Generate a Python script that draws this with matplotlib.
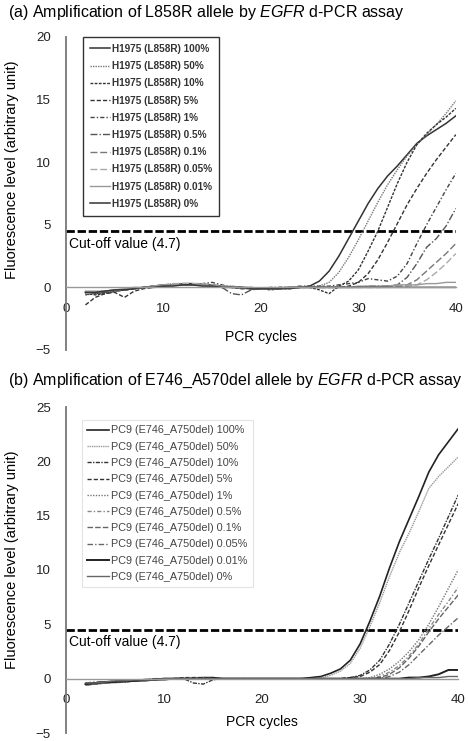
#!/usr/bin/env python3
"""Amplification curves of the EGFR d-PCR assay (L858R and E746_A750del)."""

import matplotlib

matplotlib.use("Agg")
import matplotlib.pyplot as plt

plt.rcParams["font.family"] = ["Liberation Sans", "DejaVu Sans"]
plt.rcParams["mathtext.fontset"] = "custom"
plt.rcParams["mathtext.rm"] = "Liberation Sans"
plt.rcParams["mathtext.it"] = "Liberation Sans:italic"

CYCLES = list(range(2, 41))
CUTOFF = 4.5
CUTOFF_LABEL = "Cut-off value (4.7)"

# panel (a): H1975 (L858R) dilution series
A_LABELS = [
    "H1975 (L858R) 100%",
    "H1975 (L858R) 50%",
    "H1975 (L858R) 10%",
    "H1975 (L858R) 5%",
    "H1975 (L858R) 1%",
    "H1975 (L858R) 0.5%",
    "H1975 (L858R) 0.1%",
    "H1975 (L858R) 0.05%",
    "H1975 (L858R) 0.01%",
    "H1975 (L858R) 0%",
]
A_100 = [-0.4, -0.5, -0.4, -0.3, -0.2, -0.1, 0.0, 0.1, 0.2, 0.2,
         0.3, 0.3, 0.2, 0.2, 0.1, 0.0, 0.0, -0.1, -0.1, -0.1,
         -0.1, 0.0, 0.0, 0.1, 0.5, 1.3, 2.5, 3.9, 5.3, 6.7,
         7.9, 8.9, 9.7, 10.6, 11.5, 12.1, 12.6, 13.1, 13.7]
A_50 = [-0.6, -0.5, -0.4, -0.3, -0.2, -0.1, 0.0, 0.1, 0.2, 0.3,
        0.3, 0.3, 0.3, 0.2, 0.1, 0.1, 0.0, 0.0, -0.1, -0.1,
        -0.1, 0.0, 0.0, 0.0, 0.1, 0.4, 1.2, 2.4, 3.8, 5.3,
        6.8, 8.2, 9.4, 10.5, 11.4, 12.2, 13.0, 13.9, 14.9]
A_10 = [-0.5, -0.6, -0.5, -0.3, -0.2, -0.1, 0.0, 0.1, 0.1, 0.2,
        0.2, 0.3, 0.2, 0.1, 0.1, 0.0, 0.0, -0.1, -0.1, -0.2,
        -0.1, -0.1, 0.0, 0.0, -0.2, -0.5, 0.1, 0.5, 1.4, 2.9,
        4.5, 6.4, 8.3, 10.0, 11.4, 12.3, 13.0, 13.6, 14.3]
A_5 = [-1.4, -0.8, -0.5, -0.4, -0.8, -0.3, -0.1, 0.0, 0.1, 0.2,
       0.2, 0.2, 0.2, 0.1, 0.0, 0.0, -0.1, -0.1, -0.1, -0.1,
       0.0, 0.0, 0.0, 0.0, 0.0, 0.0, 0.0, 0.1, 0.4, 1.1,
       2.2, 3.6, 5.1, 6.6, 7.9, 9.1, 10.2, 11.2, 12.2]
A_1 = [-0.6, -0.4, -0.3, -0.3, -0.2, -0.1, 0.0, 0.0, 0.1, 0.2,
       0.2, 0.2, 0.3, 0.4, 0.2, 0.0, -0.1, -0.1, -0.1, 0.0,
       0.0, 0.0, 0.1, 0.1, 0.1, 0.1, 0.2, 0.3, 0.4, 0.7,
       0.6, 0.5, 0.9, 1.9, 3.5, 5.0, 6.4, 7.8, 9.1]
A_05 = [-0.5, -0.4, -0.4, -0.3, -0.2, -0.1, 0.0, 0.1, 0.1, 0.2,
        0.2, 0.2, 0.2, 0.1, 0.0, -0.5, -0.6, -0.2, -0.1, -0.1,
        -0.1, 0.0, 0.0, 0.0, 0.0, 0.0, 0.0, 0.0, 0.0, 0.1,
        0.1, 0.1, 0.2, 0.8, 1.9, 3.2, 3.9, 4.9, 6.3]
A_01 = [-0.4, -0.4, -0.3, -0.3, -0.2, -0.1, 0.0, 0.1, 0.2, 0.2,
        0.3, 0.3, 0.2, 0.1, 0.1, 0.0, 0.0, -0.1, -0.1, -0.1,
        -0.1, 0.0, 0.0, 0.0, 0.0, 0.0, 0.0, 0.0, 0.0, 0.0,
        0.0, 0.1, 0.1, 0.2, 0.6, 1.3, 2.0, 2.7, 3.5]
A_005 = [-0.5, -0.4, -0.3, -0.2, -0.2, -0.1, 0.0, 0.1, 0.2, 0.3,
         0.3, 0.3, 0.3, 0.2, 0.1, 0.1, 0.0, 0.0, -0.1, -0.1,
         0.0, 0.0, 0.0, 0.0, 0.0, 0.0, 0.0, 0.0, 0.0, 0.0,
         0.0, 0.0, 0.1, 0.1, 0.2, 0.6, 1.2, 1.9, 2.7]
A_001 = [-0.3, -0.3, -0.3, -0.2, -0.1, 0.0, 0.0, 0.1, 0.2, 0.2,
         0.2, 0.2, 0.2, 0.1, 0.1, 0.0, 0.0, 0.0, -0.1, -0.1,
         -0.1, 0.0, 0.0, 0.0, 0.0, 0.0, 0.0, 0.0, 0.1, 0.1,
         0.1, 0.1, 0.2, 0.2, 0.2, 0.3, 0.3, 0.4, 0.4]
A_0 = [-0.4, -0.4, -0.3, -0.2, -0.2, -0.1, 0.0, 0.0, 0.1, 0.1,
       0.2, 0.2, 0.1, 0.1, 0.0, 0.0, 0.0, -0.1, -0.1, -0.1,
       -0.1, -0.1, 0.0, 0.0, 0.0, 0.0, 0.0, 0.0, 0.0, 0.0,
       0.0, 0.0, 0.0, 0.0, 0.0, 0.0, 0.0, 0.0, 0.0]

# panel (b): PC9 (E746_A750del) dilution series
B_LABELS = [
    "PC9 (E746_A750del) 100%",
    "PC9 (E746_A750del) 50%",
    "PC9 (E746_A750del) 10%",
    "PC9 (E746_A750del) 5%",
    "PC9 (E746_A750del) 1%",
    "PC9 (E746_A750del) 0.5%",
    "PC9 (E746_A750del) 0.1%",
    "PC9 (E746_A750del) 0.05%",
    "PC9 (E746_A750del) 0.01%",
    "PC9 (E746_A750del) 0%",
]
B_100 = [-0.5, -0.4, -0.4, -0.3, -0.3, -0.2, -0.2, -0.1, -0.1, 0.0,
         0.0, 0.0, 0.1, 0.1, 0.0, 0.0, 0.0, 0.0, 0.0, 0.0,
         0.0, 0.0, 0.0, 0.1, 0.2, 0.5, 0.9, 1.7, 3.2, 5.3,
         7.6, 10.2, 12.6, 14.7, 16.8, 19.0, 20.6, 21.8, 23.0]
B_50 = [-0.6, -0.5, -0.4, -0.4, -0.3, -0.2, -0.2, -0.1, -0.1, 0.0,
        0.0, 0.1, 0.1, 0.0, 0.0, 0.0, 0.0, 0.0, 0.0, 0.0,
        0.0, 0.0, 0.0, 0.0, 0.1, 0.3, 0.7, 1.4, 2.8, 4.8,
        7.0, 9.4, 11.6, 13.4, 15.4, 17.5, 18.6, 19.5, 20.4]
B_10 = [-0.5, -0.5, -0.4, -0.3, -0.3, -0.2, -0.1, -0.1, 0.0, 0.0,
        0.0, -0.4, -0.5, -0.1, 0.0, 0.0, 0.0, 0.0, 0.0, 0.0,
        0.0, 0.0, 0.0, 0.0, 0.0, 0.0, 0.0, 0.1, 0.3, 0.8,
        1.7, 3.2, 5.0, 7.0, 9.0, 11.0, 12.9, 14.9, 16.9]
B_5 = [-0.4, -0.4, -0.3, -0.3, -0.2, -0.2, -0.1, -0.1, 0.0, 0.0,
       0.1, 0.1, 0.1, 0.0, 0.0, 0.0, 0.0, 0.0, 0.0, 0.0,
       0.0, 0.0, 0.0, 0.0, 0.0, 0.0, 0.0, 0.1, 0.2, 0.6,
       1.3, 2.6, 4.3, 6.3, 8.4, 10.4, 12.3, 14.2, 16.1]
B_1 = [-0.5, -0.4, -0.3, -0.3, -0.2, -0.1, -0.1, 0.0, 0.0, 0.0,
       0.1, 0.0, 0.0, 0.0, 0.0, 0.0, 0.0, 0.0, 0.0, 0.0,
       0.0, 0.0, 0.0, 0.0, 0.0, 0.0, 0.0, 0.0, 0.0, 0.1,
       0.4, 0.9, 1.6, 2.5, 3.6, 5.0, 6.6, 8.3, 10.0]
B_05 = [-0.4, -0.4, -0.3, -0.2, -0.2, -0.1, -0.1, 0.0, 0.0, 0.0,
        0.0, 0.0, 0.0, 0.0, 0.0, 0.0, 0.0, 0.0, 0.0, 0.0,
        0.0, 0.0, 0.0, 0.0, 0.0, 0.0, 0.0, 0.0, 0.0, 0.0,
        0.2, 0.6, 1.2, 2.1, 3.2, 4.6, 5.9, 7.1, 8.4]
B_01 = [-0.6, -0.5, -0.4, -0.3, -0.2, -0.2, -0.1, -0.1, 0.0, 0.0,
        0.0, 0.0, 0.0, 0.0, 0.0, 0.0, 0.0, 0.0, 0.0, 0.0,
        0.0, 0.0, 0.0, 0.0, 0.0, 0.0, 0.0, 0.0, 0.0, 0.0,
        0.1, 0.4, 1.0, 1.9, 3.0, 4.3, 5.5, 6.6, 7.7]
B_005 = [-0.4, -0.3, -0.3, -0.2, -0.2, -0.1, -0.1, 0.0, 0.0, 0.0,
         0.0, 0.0, 0.0, 0.0, 0.0, 0.0, 0.0, 0.0, 0.0, 0.0,
         0.0, 0.0, 0.0, 0.0, 0.0, 0.0, 0.0, 0.0, 0.0, 0.0,
         0.0, 0.2, 0.6, 1.3, 2.2, 3.1, 4.0, 4.8, 5.6]
B_001 = [-0.5, -0.4, -0.3, -0.3, -0.2, -0.2, -0.1, -0.1, 0.0, 0.0,
         0.0, 0.0, 0.0, 0.0, 0.0, 0.0, 0.0, 0.0, 0.0, 0.0,
         0.0, 0.0, 0.0, 0.0, 0.0, 0.0, 0.0, 0.0, 0.0, 0.0,
         0.0, 0.0, 0.0, 0.1, 0.1, 0.2, 0.4, 0.8, 0.8]
B_0 = [-0.4, -0.4, -0.3, -0.2, -0.2, -0.1, -0.1, -0.1, 0.0, 0.0,
       0.0, 0.0, 0.0, 0.0, 0.0, 0.0, 0.0, 0.0, 0.0, 0.0,
       0.0, 0.0, 0.0, 0.0, 0.0, 0.0, 0.0, 0.0, 0.0, 0.0,
       0.0, 0.0, 0.0, 0.0, 0.1, 0.1, 0.1, 0.2, 0.2]

A_STYLES = [
    ("-", "#333333", 1.1),
    ((0, (1, 0.8)), "#777777", 1.0),
    ((0, (2, 1)), "#333333", 1.0),
    ((0, (3, 1.5)), "#333333", 1.0),
    ((0, (3, 1.5, 1, 1.5)), "#444444", 1.0),
    ((0, (5, 1.5, 1, 1.5)), "#555555", 1.0),
    ((0, (5, 2)), "#777777", 1.0),
    ((0, (5, 2)), "#aaaaaa", 1.0),
    ("-", "#999999", 1.0),
    ("-", "#333333", 1.1),
]
B_STYLES = [
    ("-", "#222222", 1.2),
    ((0, (1, 0.6)), "#999999", 1.0),
    ((0, (3, 1, 1, 1)), "#333333", 1.0),
    ((0, (3, 1.5)), "#333333", 1.0),
    ((0, (1, 1)), "#777777", 1.0),
    ((0, (3, 1.5, 1, 1.5)), "#888888", 1.0),
    ((0, (4, 1.5)), "#666666", 1.0),
    ((0, (4, 1.5, 1, 1.5)), "#666666", 1.0),
    ("-", "#222222", 1.4),
    ("-", "#666666", 1.0),
]


def _style_axis(axis, ymin, ymax):
    axis.set_xlim(0, 40)
    axis.set_ylim(ymin, ymax)
    axis.set_xticks([0, 10, 20, 30, 40])
    axis.set_yticks(range(ymin, ymax + 1, 5))
    axis.spines["top"].set_visible(False)
    axis.spines["right"].set_visible(False)
    axis.spines["left"].set_position(("data", 0))
    axis.spines["bottom"].set_position(("data", 0))
    axis.spines["left"].set_color("#777777")
    axis.spines["left"].set_linewidth(1.3)
    axis.spines["bottom"].set_color("#999999")
    axis.spines["bottom"].set_linewidth(1.0)
    axis.tick_params(axis="both", length=0, labelsize=9.5, colors="#222222")
    axis.tick_params(axis="y", pad=11)
    axis.tick_params(axis="x", pad=11)
    axis.patch.set_alpha(0)


def _panel(axis, series, labels, styles, ymin, ymax, legend_kw):
    _style_axis(axis, ymin, ymax)
    for values, label, (ls, color, lw) in zip(series, labels, styles):
        axis.plot(CYCLES, values, linestyle=ls, color=color, linewidth=lw, label=label)
    axis.axhline(CUTOFF, color="black", linewidth=2.0, linestyle=(0, (3, 1)), zorder=1)
    axis.text(0.3, CUTOFF - 0.45, CUTOFF_LABEL, fontsize=10, va="top", ha="left")
    axis.text(20, -4.0, "PCR cycles", fontsize=10, va="center", ha="center")
    legend = axis.legend(
        loc="upper left",
        borderaxespad=0,
        handlelength=2.0,
        handletextpad=0.2,
        fancybox=False,
        **legend_kw,
    )
    return legend


def main():
    fig = plt.figure(figsize=(4.68, 7.41), dpi=100)

    ax_a = fig.add_axes([0.141, 0.5277, 0.833, 0.4224])
    series_a = [A_100, A_50, A_10, A_5, A_1, A_05, A_01, A_005, A_001, A_0]
    leg_a = _panel(
        ax_a, series_a, A_LABELS, A_STYLES, -5, 20,
        dict(bbox_to_anchor=(0.044, 1.0), prop={"size": 7.2, "weight": "bold"},
             labelspacing=0.72, borderpad=0.7, labelcolor="#333333"),
    )
    leg_a.get_frame().set_edgecolor("black")
    leg_a.get_frame().set_linewidth(1.0)

    ax_b = fig.add_axes([0.141, 1 - 733 / 741, 0.838, 326 / 741])
    series_b = [B_100, B_50, B_10, B_5, B_1, B_05, B_01, B_005, B_001, B_0]
    leg_b = _panel(
        ax_b, series_b, B_LABELS, B_STYLES, -5, 25,
        dict(bbox_to_anchor=(0.041, 0.96), prop={"size": 7.8},
             labelspacing=0.58, borderpad=0.5, labelcolor="#444444"),
    )
    leg_b.get_frame().set_edgecolor("#dddddd")
    leg_b.get_frame().set_linewidth(0.8)

    fig.text(0.017, 1 - 12 / 741,
             r"(a) Amplification of L858R allele by $\mathit{EGFR}$ d-PCR assay",
             fontsize=11.5, va="center", ha="left")
    fig.text(0.017, 1 - 381 / 741,
             r"(b) Amplification of E746_A570del allele by $\mathit{EGFR}$ d-PCR assay",
             fontsize=11.5, va="center", ha="left")
    for yc in (1 - 170 / 741, 1 - 560 / 741):
        fig.text(0.026, yc, "Fluorescence level (arbitrary unit)", rotation=90,
                 fontsize=10.5, va="center", ha="center")

    fig.savefig("out.png", dpi=100)


if __name__ == "__main__":
    main()
